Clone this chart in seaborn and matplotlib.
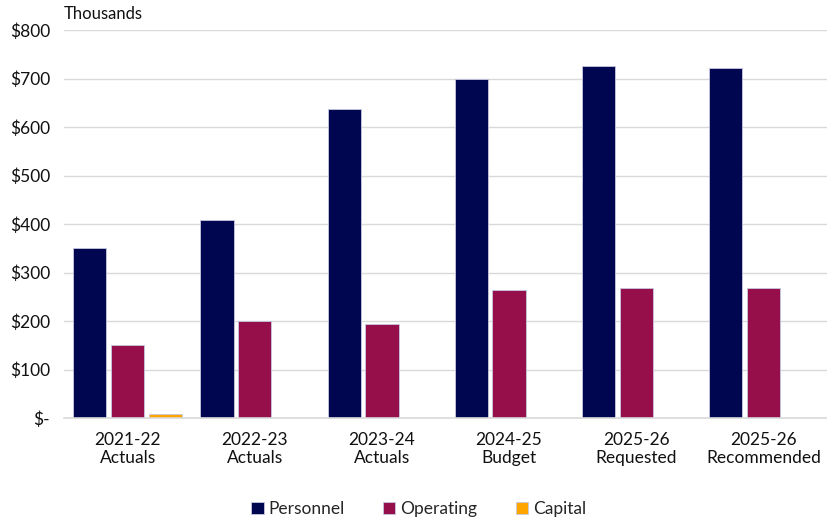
import pandas as pd
import matplotlib.pyplot as plt
import seaborn as sns
from matplotlib.ticker import FuncFormatter, FixedLocator

# data (thousands of dollars)
categories = ["2021-22\nActuals", "2022-23\nActuals", "2023-24\nActuals",
              "2024-25\nBudget", "2025-26\nRequested", "2025-26\nRecommended"]
personnel = [350, 408, 637, 699, 726, 722]
operating = [151, 200, 193, 264, 268, 268]
capital = [8, 0, 0, 0, 0, 0]
series = ["Personnel", "Operating", "Capital"]
colors = ["#000650", "#970F4A", "#FFA500"]

df = pd.DataFrame({"category": categories * 3,
                   "series": ["Personnel"] * 6 + ["Operating"] * 6 + ["Capital"] * 6,
                   "value": personnel + operating + capital})

sns.set_style("white")
plt.rcParams['font.family'] = ['Lato', 'DejaVu Sans']

fig = plt.figure(figsize=(8.27, 5.18), dpi=100)
ax = fig.add_axes([64 / 827, 100 / 518, 763 / 827, 388 / 518])

sns.barplot(data=df, x="category", y="value", hue="series", hue_order=series,
            palette=colors, saturation=1, width=0.89, gap=0.12, ax=ax, legend=True,
            edgecolor="#c8c8e0", linewidth=0.6)

ax.set_ylim(0, 800)
ax.set_xlim(-0.5, 5.5)
ax.set_yticks(range(0, 801, 100))
ax.yaxis.set_major_formatter(FuncFormatter(lambda v, p: "$-" if v == 0 else f"${int(v)}"))
ax.grid(axis="y", color="#d9d9d9", linewidth=1)
ax.set_axisbelow(True)
for s in ["top", "right", "left"]:
    ax.spines[s].set_visible(False)
ax.spines["bottom"].set_color("#d9d9d9")
ax.spines["bottom"].set_linewidth(1.2)
ax.set_xlabel("")
ax.set_ylabel("")
ax.tick_params(axis="y", length=0, labelsize=12.5, pad=10, colors="#111111")
ax.tick_params(axis="x", which="major", length=0, labelsize=12.5, pad=10, colors="#111111")
ax.xaxis.set_minor_locator(FixedLocator([i - 0.5 for i in range(7)]))
ax.tick_params(axis="x", which="minor", length=6, color="#d9d9d9", width=1.2)

ax.text(0, 1.02, "Thousands", transform=ax.transAxes, fontsize=12, color="#111111",
        ha="left", va="bottom")

ax.legend(loc="lower center", bbox_to_anchor=(0.465, -0.295), ncol=3, frameon=False,
          fontsize=12.5, handlelength=0.7, handleheight=0.7, columnspacing=2.2,
          handletextpad=0.3)

fig.savefig("out.png", dpi=100)
